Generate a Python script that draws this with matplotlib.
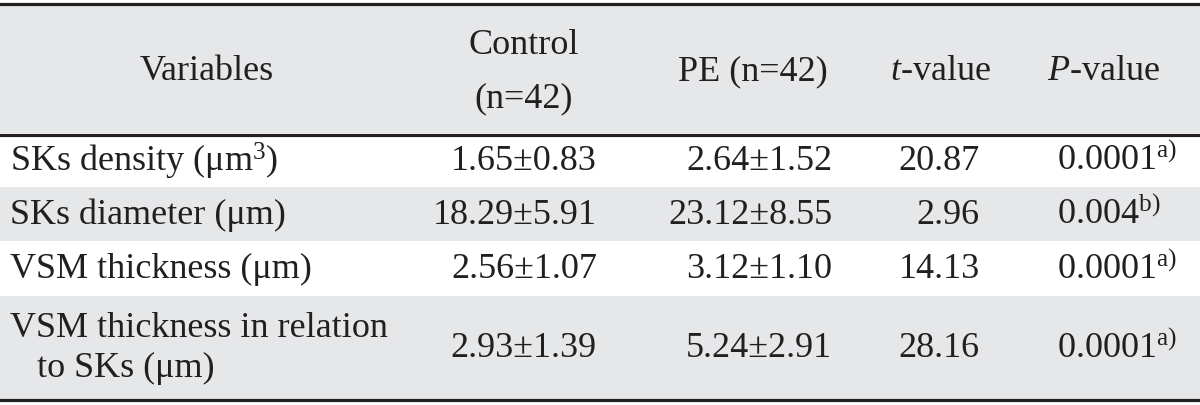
import matplotlib
matplotlib.use("Agg")
import matplotlib.pyplot as plt

plt.rcParams["font.family"] = ["Liberation Serif", "DejaVu Serif"]
plt.rcParams["mathtext.fontset"] = "custom"
plt.rcParams["mathtext.rm"] = "Liberation Serif"
plt.rcParams["mathtext.it"] = "Liberation Serif:italic"

# DATA
headers = ["Variables", "Control\n(n=42)", "PE (n=42)", "$t$-value", "$P$-value"]
variables = ["SKs density (μm$^{3}$)", "SKs diameter (μm)", "VSM thickness (μm)",
             "VSM thickness in relation\n   to SKs (μm)"]
control = ["1.65±0.83", "18.29±5.91", "2.56±1.07", "2.93±1.39"]
pe = ["2.64±1.52", "23.12±8.55", "3.12±1.10", "5.24±2.91"]
t_values = ["20.87", "2.96", "14.13", "28.16"]
p_values = ["0.0001", "0.004", "0.0001", "0.0001"]
p_notes = ["a)", "b)", "a)", "a)"]

# LAYOUT (pixels)
W, H = 1200, 405
row_edges = [4, 133, 187, 241, 296, 399]
GRAY = "#e6e7e8"
INK = "#231f20"
FS = 26

fig = plt.figure(figsize=(W / 100, H / 100), dpi=100)
ax = fig.add_axes([0, 0, 1, 1])
ax.set_xlim(0, W)
ax.set_ylim(H, 0)
ax.axis("off")

# backgrounds
for i in [0, 2, 4]:
    ax.axhspan(row_edges[i], row_edges[i + 1], color=GRAY, lw=0, zorder=0)

# rules
ax.axhline(3.5, color=INK, lw=2.3)
ax.axhline(134.5, color=INK, lw=2.3)
ax.axhline(400, color=INK, lw=2.3)

# header
hx = [207, 524, 753, 941, 1104]
for x, h in zip(hx, headers):
    ax.text(x, 72, h, ha="center", va="center", fontsize=FS, color=INK,
            linespacing=1.8)

# body
for r in range(len(variables)):
    y = (row_edges[r + 1] + row_edges[r + 2]) / 2 + 1
    ax.text(10, y, variables[r], ha="left", va="center", fontsize=FS,
            color=INK, linespacing=1.27)
    ax.text(597, y, control[r], ha="right", va="center", fontsize=FS, color=INK)
    ax.text(832, y, pe[r], ha="right", va="center", fontsize=FS, color=INK)
    ax.text(980, y, t_values[r], ha="right", va="center", fontsize=FS, color=INK)
    ax.text(1057, y, p_values[r] + "$^{\\mathrm{" + p_notes[r] + "}}$", ha="left",
            va="center", fontsize=FS, color=INK)

fig.savefig("out.png", dpi=100)
